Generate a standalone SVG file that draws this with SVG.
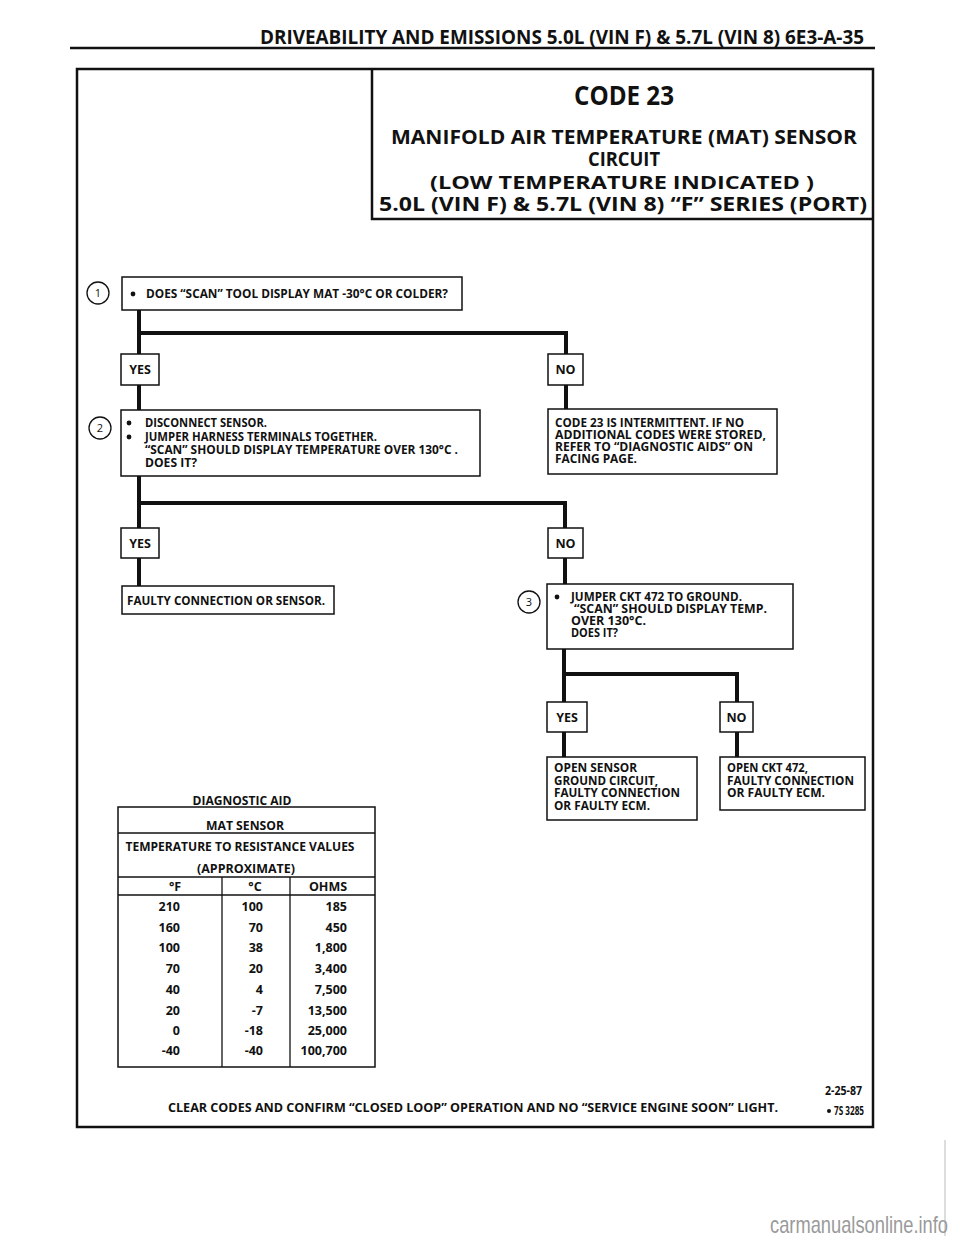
<svg xmlns="http://www.w3.org/2000/svg" width="960" height="1242" viewBox="0 0 960 1242">
<style>
text{font-family:"Open Sans","Liberation Sans",sans-serif;font-weight:bold;fill:#111;}
.box{fill:#fff;stroke:#111;stroke-width:1.5;}
.frame{fill:none;stroke:#111;stroke-width:2.5;}
.conn{fill:none;stroke:#111;stroke-width:4;}
.t{font-size:12.5px;}
.s{font-size:11.5px;}
.lbl{font-size:12.5px;text-anchor:middle;}
.num{font-size:11px;text-anchor:middle;font-weight:normal;}
.circ{fill:#fff;stroke:#111;stroke-width:1.3;}
.tb{font-size:12.5px;}
.r{text-anchor:end;}
.m{text-anchor:middle;}
.tl{stroke:#111;stroke-width:1.3;}
</style>
<rect width="960" height="1242" fill="#fff"/>
<g id="header">
<text x="260" y="44" font-size="20" textLength="604" lengthAdjust="spacingAndGlyphs">DRIVEABILITY AND EMISSIONS 5.0L (VIN F) &amp; 5.7L (VIN 8) 6E3-A-35</text>
<line x1="70" y1="48" x2="875" y2="48" stroke="#111" stroke-width="2.5"/>
</g>
<rect id="frame" class="frame" x="77" y="69" width="796" height="1058"/>
<g id="title">
<path d="M372,69 V219 H873" class="frame"/>
<text x="624" y="105" font-size="26" text-anchor="middle" textLength="100" lengthAdjust="spacingAndGlyphs">CODE 23</text>
<text x="624" y="144" font-size="19.5" text-anchor="middle" textLength="466" lengthAdjust="spacingAndGlyphs">MANIFOLD AIR TEMPERATURE (MAT) SENSOR</text>
<text x="624" y="166" font-size="19.5" text-anchor="middle" textLength="72" lengthAdjust="spacingAndGlyphs">CIRCUIT</text>
<text x="622" y="189" font-size="17" text-anchor="middle" textLength="384" lengthAdjust="spacingAndGlyphs">(LOW TEMPERATURE INDICATED )</text>
<text x="379" y="211" font-size="19.5" textLength="488" lengthAdjust="spacingAndGlyphs">5.0L (VIN F)  &amp;  5.7L (VIN 8)   “F”  SERIES  (PORT)</text>
</g>
<g id="connectors">
<path class="conn" d="M139,310 V354 M139,333 H566 V354"/>
<path class="conn" d="M139,385 V410 M566,385 V409"/>
<path class="conn" d="M139,476 V528 M139,503 H565 V528"/>
<path class="conn" d="M139,558 V586 M565,558 V584"/>
<path class="conn" d="M564,649 V702 M564,674 H737 V702"/>
<path class="conn" d="M564,732 V757 M737,732 V757"/>
</g>
<g id="step1">
<circle class="circ" cx="98" cy="293" r="11"/>
<text class="num" x="98" y="297">1</text>
<rect class="box" x="122" y="277" width="340" height="33"/>
<circle cx="133" cy="294" r="2.4" fill="#111"/>
<text class="t" x="146" y="298" textLength="302" lengthAdjust="spacingAndGlyphs">DOES “SCAN” TOOL DISPLAY MAT -30°C OR COLDER?</text>
</g>
<g id="yes1">
<rect class="box" x="121" y="354" width="38" height="31"/>
<text class="lbl" x="140" y="374">YES</text>
</g>
<g id="no1">
<rect class="box" x="548" y="354" width="35" height="31"/>
<text class="lbl" x="565.5" y="374">NO</text>
</g>
<g id="step2">
<circle class="circ" cx="100" cy="428" r="11"/>
<text class="num" x="100" y="432">2</text>
<rect class="box" x="121" y="410" width="359" height="66"/>
<circle cx="129" cy="423" r="2.4" fill="#111"/>
<circle cx="129" cy="437" r="2.4" fill="#111"/>
<text class="s" x="145" y="427" textLength="122" lengthAdjust="spacingAndGlyphs">DISCONNECT SENSOR.</text>
<text class="s" x="145" y="441" textLength="232" lengthAdjust="spacingAndGlyphs">JUMPER HARNESS TERMINALS TOGETHER.</text>
<text class="s" x="145" y="454" textLength="313" lengthAdjust="spacingAndGlyphs">“SCAN” SHOULD DISPLAY TEMPERATURE OVER 130°C .</text>
<text class="s" x="145" y="467" textLength="52" lengthAdjust="spacingAndGlyphs">DOES IT?</text>
</g>
<g id="intermittent">
<rect class="box" x="548" y="409" width="229" height="65"/>
<text class="s" x="555" y="426.5" textLength="189" lengthAdjust="spacingAndGlyphs">CODE 23 IS INTERMITTENT.  IF NO</text>
<text class="s" x="555" y="438.5" textLength="211" lengthAdjust="spacingAndGlyphs">ADDITIONAL CODES WERE STORED,</text>
<text class="s" x="555" y="451" textLength="198" lengthAdjust="spacingAndGlyphs">REFER TO  “DIAGNOSTIC AIDS” ON</text>
<text class="s" x="555" y="463" textLength="82" lengthAdjust="spacingAndGlyphs">FACING PAGE.</text>
</g>
<g id="yes2">
<rect class="box" x="121" y="528" width="38" height="30"/>
<text class="lbl" x="140" y="547.5">YES</text>
</g>
<g id="no2">
<rect class="box" x="548" y="528" width="35" height="30"/>
<text class="lbl" x="565.5" y="547.5">NO</text>
</g>
<g id="faulty">
<rect class="box" x="122" y="586" width="212" height="28"/>
<text class="t" x="127" y="605" textLength="198" lengthAdjust="spacingAndGlyphs">FAULTY CONNECTION OR SENSOR.</text>
</g>
<g id="step3">
<circle class="circ" cx="529" cy="602" r="11"/>
<text class="num" x="529" y="606">3</text>
<rect class="box" x="547" y="584" width="246" height="65"/>
<circle cx="557" cy="597" r="2.4" fill="#111"/>
<text class="s" x="571" y="601" textLength="171" lengthAdjust="spacingAndGlyphs">JUMPER CKT 472 TO GROUND.</text>
<text class="s" x="574" y="613" textLength="193" lengthAdjust="spacingAndGlyphs">“SCAN”  SHOULD DISPLAY TEMP.</text>
<text class="s" x="571" y="625" textLength="75" lengthAdjust="spacingAndGlyphs">OVER 130°C.</text>
<text class="s" x="571" y="637" textLength="47" lengthAdjust="spacingAndGlyphs">DOES IT?</text>
</g>
<g id="yes3">
<rect class="box" x="547" y="702" width="40" height="30"/>
<text class="lbl" x="567" y="721.5">YES</text>
</g>
<g id="no3">
<rect class="box" x="720" y="702" width="33" height="30"/>
<text class="lbl" x="736.5" y="721.5">NO</text>
</g>
<g id="opensensor">
<rect class="box" x="547" y="757" width="150" height="63"/>
<text class="s" x="554" y="772" textLength="83" lengthAdjust="spacingAndGlyphs">OPEN SENSOR</text>
<text class="s" x="554" y="784.5" textLength="104" lengthAdjust="spacingAndGlyphs">GROUND CIRCUIT,</text>
<text class="s" x="554" y="797" textLength="126" lengthAdjust="spacingAndGlyphs">FAULTY CONNECTION</text>
<text class="s" x="554" y="809.5" textLength="96" lengthAdjust="spacingAndGlyphs">OR FAULTY ECM.</text>
</g>
<g id="openckt">
<rect class="box" x="720" y="757" width="145" height="53"/>
<text class="s" x="727" y="772" textLength="81" lengthAdjust="spacingAndGlyphs">OPEN CKT 472,</text>
<text class="s" x="727" y="784.5" textLength="127" lengthAdjust="spacingAndGlyphs">FAULTY CONNECTION</text>
<text class="s" x="727" y="797" textLength="98" lengthAdjust="spacingAndGlyphs">OR FAULTY ECM.</text>
</g>
<g id="table">
<text class="tb m" x="242" y="805" textLength="99" lengthAdjust="spacingAndGlyphs">DIAGNOSTIC AID</text>
<rect class="box" x="118" y="807" width="257" height="260"/>
<line class="tl" x1="118" y1="833" x2="375" y2="833"/>
<line class="tl" x1="118" y1="877" x2="375" y2="877"/>
<line class="tl" x1="118" y1="895" x2="375" y2="895"/>
<line class="tl" x1="222" y1="877" x2="222" y2="1067"/>
<line class="tl" x1="290" y1="877" x2="290" y2="1067"/>
<text class="tb m" x="245" y="830" textLength="78" lengthAdjust="spacingAndGlyphs">MAT SENSOR</text>
<text class="tb m" x="240" y="851" textLength="229" lengthAdjust="spacingAndGlyphs">TEMPERATURE TO RESISTANCE VALUES</text>
<text class="tb m" x="246" y="873" textLength="98" lengthAdjust="spacingAndGlyphs">(APPROXIMATE)</text>
<text class="tb m" x="175" y="891">°F</text>
<text class="tb m" x="255" y="891">°C</text>
<text class="tb m" x="328" y="891">OHMS</text>
<g class="tb r">
<text x="180" y="911">210</text><text x="263" y="911">100</text><text x="347" y="911">185</text>
<text x="180" y="932">160</text><text x="263" y="932">70</text><text x="347" y="932">450</text>
<text x="180" y="952">100</text><text x="263" y="952">38</text><text x="347" y="952">1,800</text>
<text x="180" y="973">70</text><text x="263" y="973">20</text><text x="347" y="973">3,400</text>
<text x="180" y="994">40</text><text x="263" y="994">4</text><text x="347" y="994">7,500</text>
<text x="180" y="1015">20</text><text x="263" y="1015">-7</text><text x="347" y="1015">13,500</text>
<text x="180" y="1035">0</text><text x="263" y="1035">-18</text><text x="347" y="1035">25,000</text>
<text x="180" y="1055">-40</text><text x="263" y="1055">-40</text><text x="347" y="1055">100,700</text>
</g>
</g>
<g id="footer">
<text x="168" y="1112" font-size="12.5" textLength="610" lengthAdjust="spacingAndGlyphs">CLEAR CODES AND CONFIRM “CLOSED LOOP”  OPERATION AND NO “SERVICE ENGINE SOON” LIGHT.</text>
<text x="825" y="1095" font-size="12" textLength="37" lengthAdjust="spacingAndGlyphs">2-25-87</text>
<circle cx="829" cy="1111" r="2" fill="#111"/>
<text x="834" y="1115" font-size="12" textLength="30" lengthAdjust="spacingAndGlyphs">7S 3285</text>
</g>
<g id="watermark">
<line x1="945" y1="1140" x2="945" y2="1236" stroke="#bbb" stroke-width="1"/>
<text x="770" y="1233" font-size="24" textLength="178" lengthAdjust="spacingAndGlyphs" style="font-family:'Liberation Sans',sans-serif;font-weight:normal;fill:#9a9a9a">carmanualsonline.info</text>
</g>
</svg>
